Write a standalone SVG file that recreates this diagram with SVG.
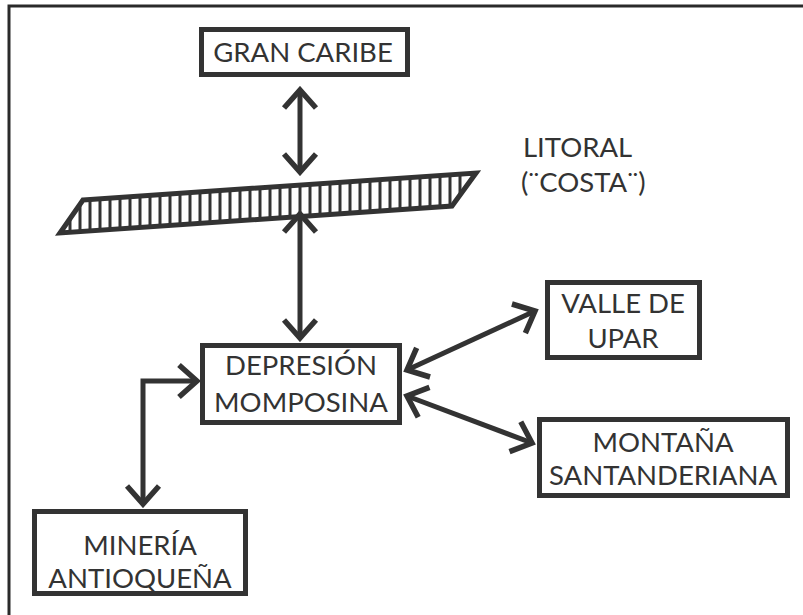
<svg xmlns="http://www.w3.org/2000/svg" width="803" height="615" viewBox="0 0 803 615">
<style>
.box{fill:#fff;stroke:#333;stroke-width:5}
.t{font-family:Lato,"Open Sans","Liberation Sans",sans-serif;font-size:27.5px;fill:#333;text-anchor:middle}
.c{fill:none;stroke:#333;stroke-width:5}
.h{stroke:#333;stroke-width:3}
</style>
<defs>
<marker id="ah" markerUnits="userSpaceOnUse" viewBox="-24 -22 28 44" markerWidth="28" markerHeight="44" refX="0" refY="0" orient="auto-start-reverse">
<path d="M-18,-16 L0,0 L-18,16" fill="none" stroke="#333" stroke-width="5.5"/>
</marker>
<clipPath id="pc"><polygon points="83,200 476,173 452,206 60,233"/></clipPath>
</defs>
<rect width="803" height="615" fill="#fff"/>
<path d="M9,615 V6 H803" fill="none" stroke="#2a2a2a" stroke-width="3"/>

<g id="litoral">
<g clip-path="url(#pc)">
<path class="h" d="M70,160V240M80,160V240M90,160V240M100,160V240M110,160V240M120,160V240M130,160V240M140,160V240M150,160V240M160,160V240M170,160V240M180,160V240M190,160V240M200,160V240M210,160V240M220,160V240M230,160V240M240,160V240M250,160V240M260,160V240M270,160V240M280,160V240M290,160V240M300,160V240M310,160V240M320,160V240M330,160V240M340,160V240M350,160V240M360,160V240M370,160V240M380,160V240M390,160V240M400,160V240M410,160V240M420,160V240M430,160V240M440,160V240M450,160V240M460,160V240"/>
</g>
<polygon points="83,200 476,173 452,206 60,233" fill="none" stroke="#333" stroke-width="5" stroke-linejoin="miter"/>
<text class="t" x="523" y="157" style="text-anchor:start">LITORAL</text>
<text class="t" x="521" y="192" style="text-anchor:start">(¨COSTA¨)</text>
</g>

<g id="connectors">
<line class="c" x1="300" y1="90" x2="300" y2="172" marker-start="url(#ah)" marker-end="url(#ah)"/>
<line class="c" x1="300" y1="214" x2="300" y2="338" marker-start="url(#ah)" marker-end="url(#ah)"/>
<line class="c" x1="407" y1="370" x2="535" y2="311" marker-start="url(#ah)" marker-end="url(#ah)"/>
<line class="c" x1="407" y1="396" x2="532" y2="443" marker-start="url(#ah)" marker-end="url(#ah)"/>
<polyline class="c" points="197,381 143,381 143,504" marker-start="url(#ah)" marker-end="url(#ah)"/>
</g>

<g id="gran-caribe">
<rect class="box" x="201.5" y="29.5" width="206" height="45"/>
<text class="t" x="303" y="62">GRAN CARIBE</text>
</g>

<g id="depresion">
<rect class="box" x="202.5" y="345.5" width="197" height="77"/>
<text class="t" x="301" y="375">DEPRESIÓN</text>
<text class="t" x="301" y="412">MOMPOSINA</text>
</g>

<g id="valle">
<rect class="box" x="547.5" y="282.5" width="152" height="75"/>
<text class="t" x="623" y="313">VALLE DE</text>
<text class="t" x="623" y="348">UPAR</text>
</g>

<g id="montana">
<rect class="box" x="539.5" y="419.5" width="248" height="76"/>
<text class="t" x="663" y="452">MONTAÑA</text>
<text class="t" x="663" y="485">SANTANDERIANA</text>
</g>

<g id="mineria">
<rect class="box" x="34.5" y="511.5" width="211" height="82"/>
<text class="t" x="140" y="555">MINERÍA</text>
<text class="t" x="140" y="588">ANTIOQUEÑA</text>
</g>
</svg>
